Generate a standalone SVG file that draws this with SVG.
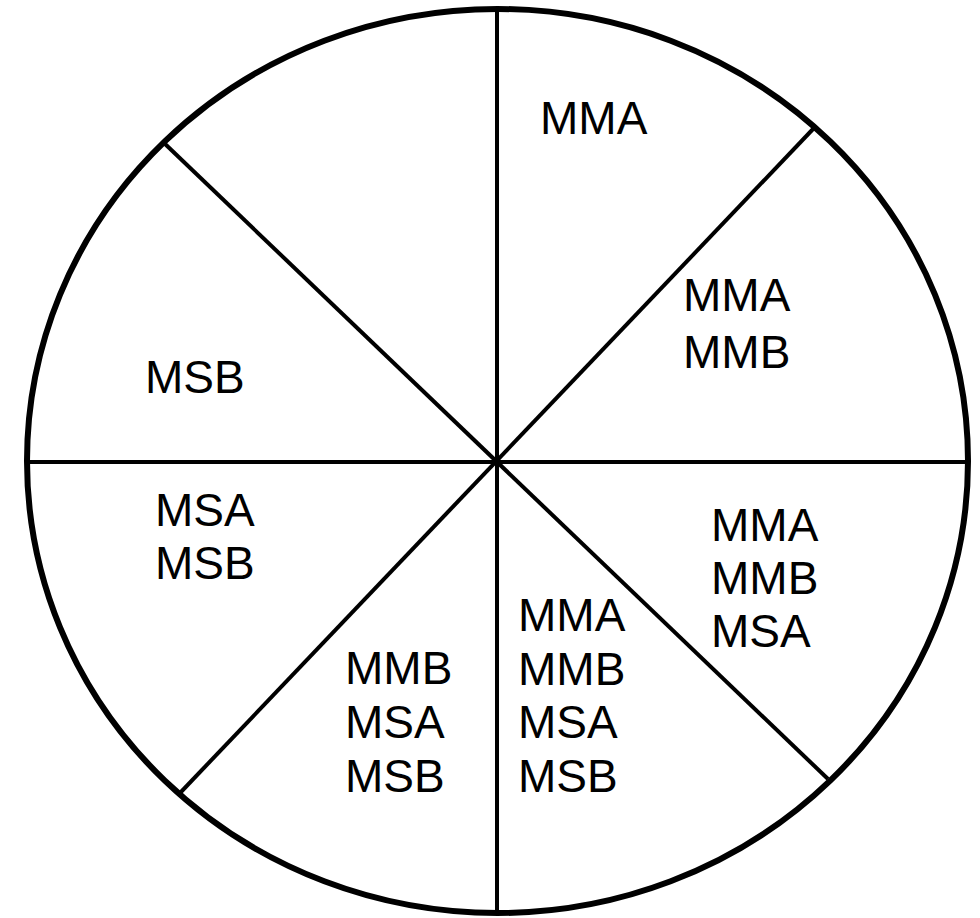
<svg xmlns="http://www.w3.org/2000/svg" width="980" height="918" viewBox="0 0 980 918">
<style>
.ln{stroke:#000;stroke-width:4;fill:none}
.rim{stroke:#000;stroke-width:6;fill:#fff}
text{font-family:"Liberation Sans",Arial,sans-serif;font-size:46px;fill:#000}
</style>
<rect width="980" height="918" fill="#fff"/>
<g id="pie">
<ellipse class="rim" cx="497.5" cy="461" rx="470.5" ry="452"/>
</g>
<g id="connectors">
<line class="ln" x1="497" y1="9" x2="497" y2="913"/>
<line class="ln" x1="27" y1="462" x2="968" y2="462"/>
<line class="ln" x1="163" y1="142" x2="828" y2="779"/>
<line class="ln" x1="814" y1="128" x2="180" y2="793"/>
</g>
<g id="s1"><text x="540" y="134">MMA</text></g>
<g id="s2"><text x="683" y="311">MMA</text><text x="683" y="368">MMB</text></g>
<g id="s3"><text x="711" y="541">MMA</text><text x="711" y="594">MMB</text><text x="711" y="647">MSA</text></g>
<g id="s4"><text x="518" y="631">MMA</text><text x="518" y="685">MMB</text><text x="518" y="738">MSA</text><text x="518" y="792">MSB</text></g>
<g id="s5"><text x="345" y="684">MMB</text><text x="345" y="738">MSA</text><text x="345" y="792">MSB</text></g>
<g id="s6"><text x="155" y="526">MSA</text><text x="155" y="579">MSB</text></g>
<g id="s7"><text x="145" y="393">MSB</text></g>
</svg>
